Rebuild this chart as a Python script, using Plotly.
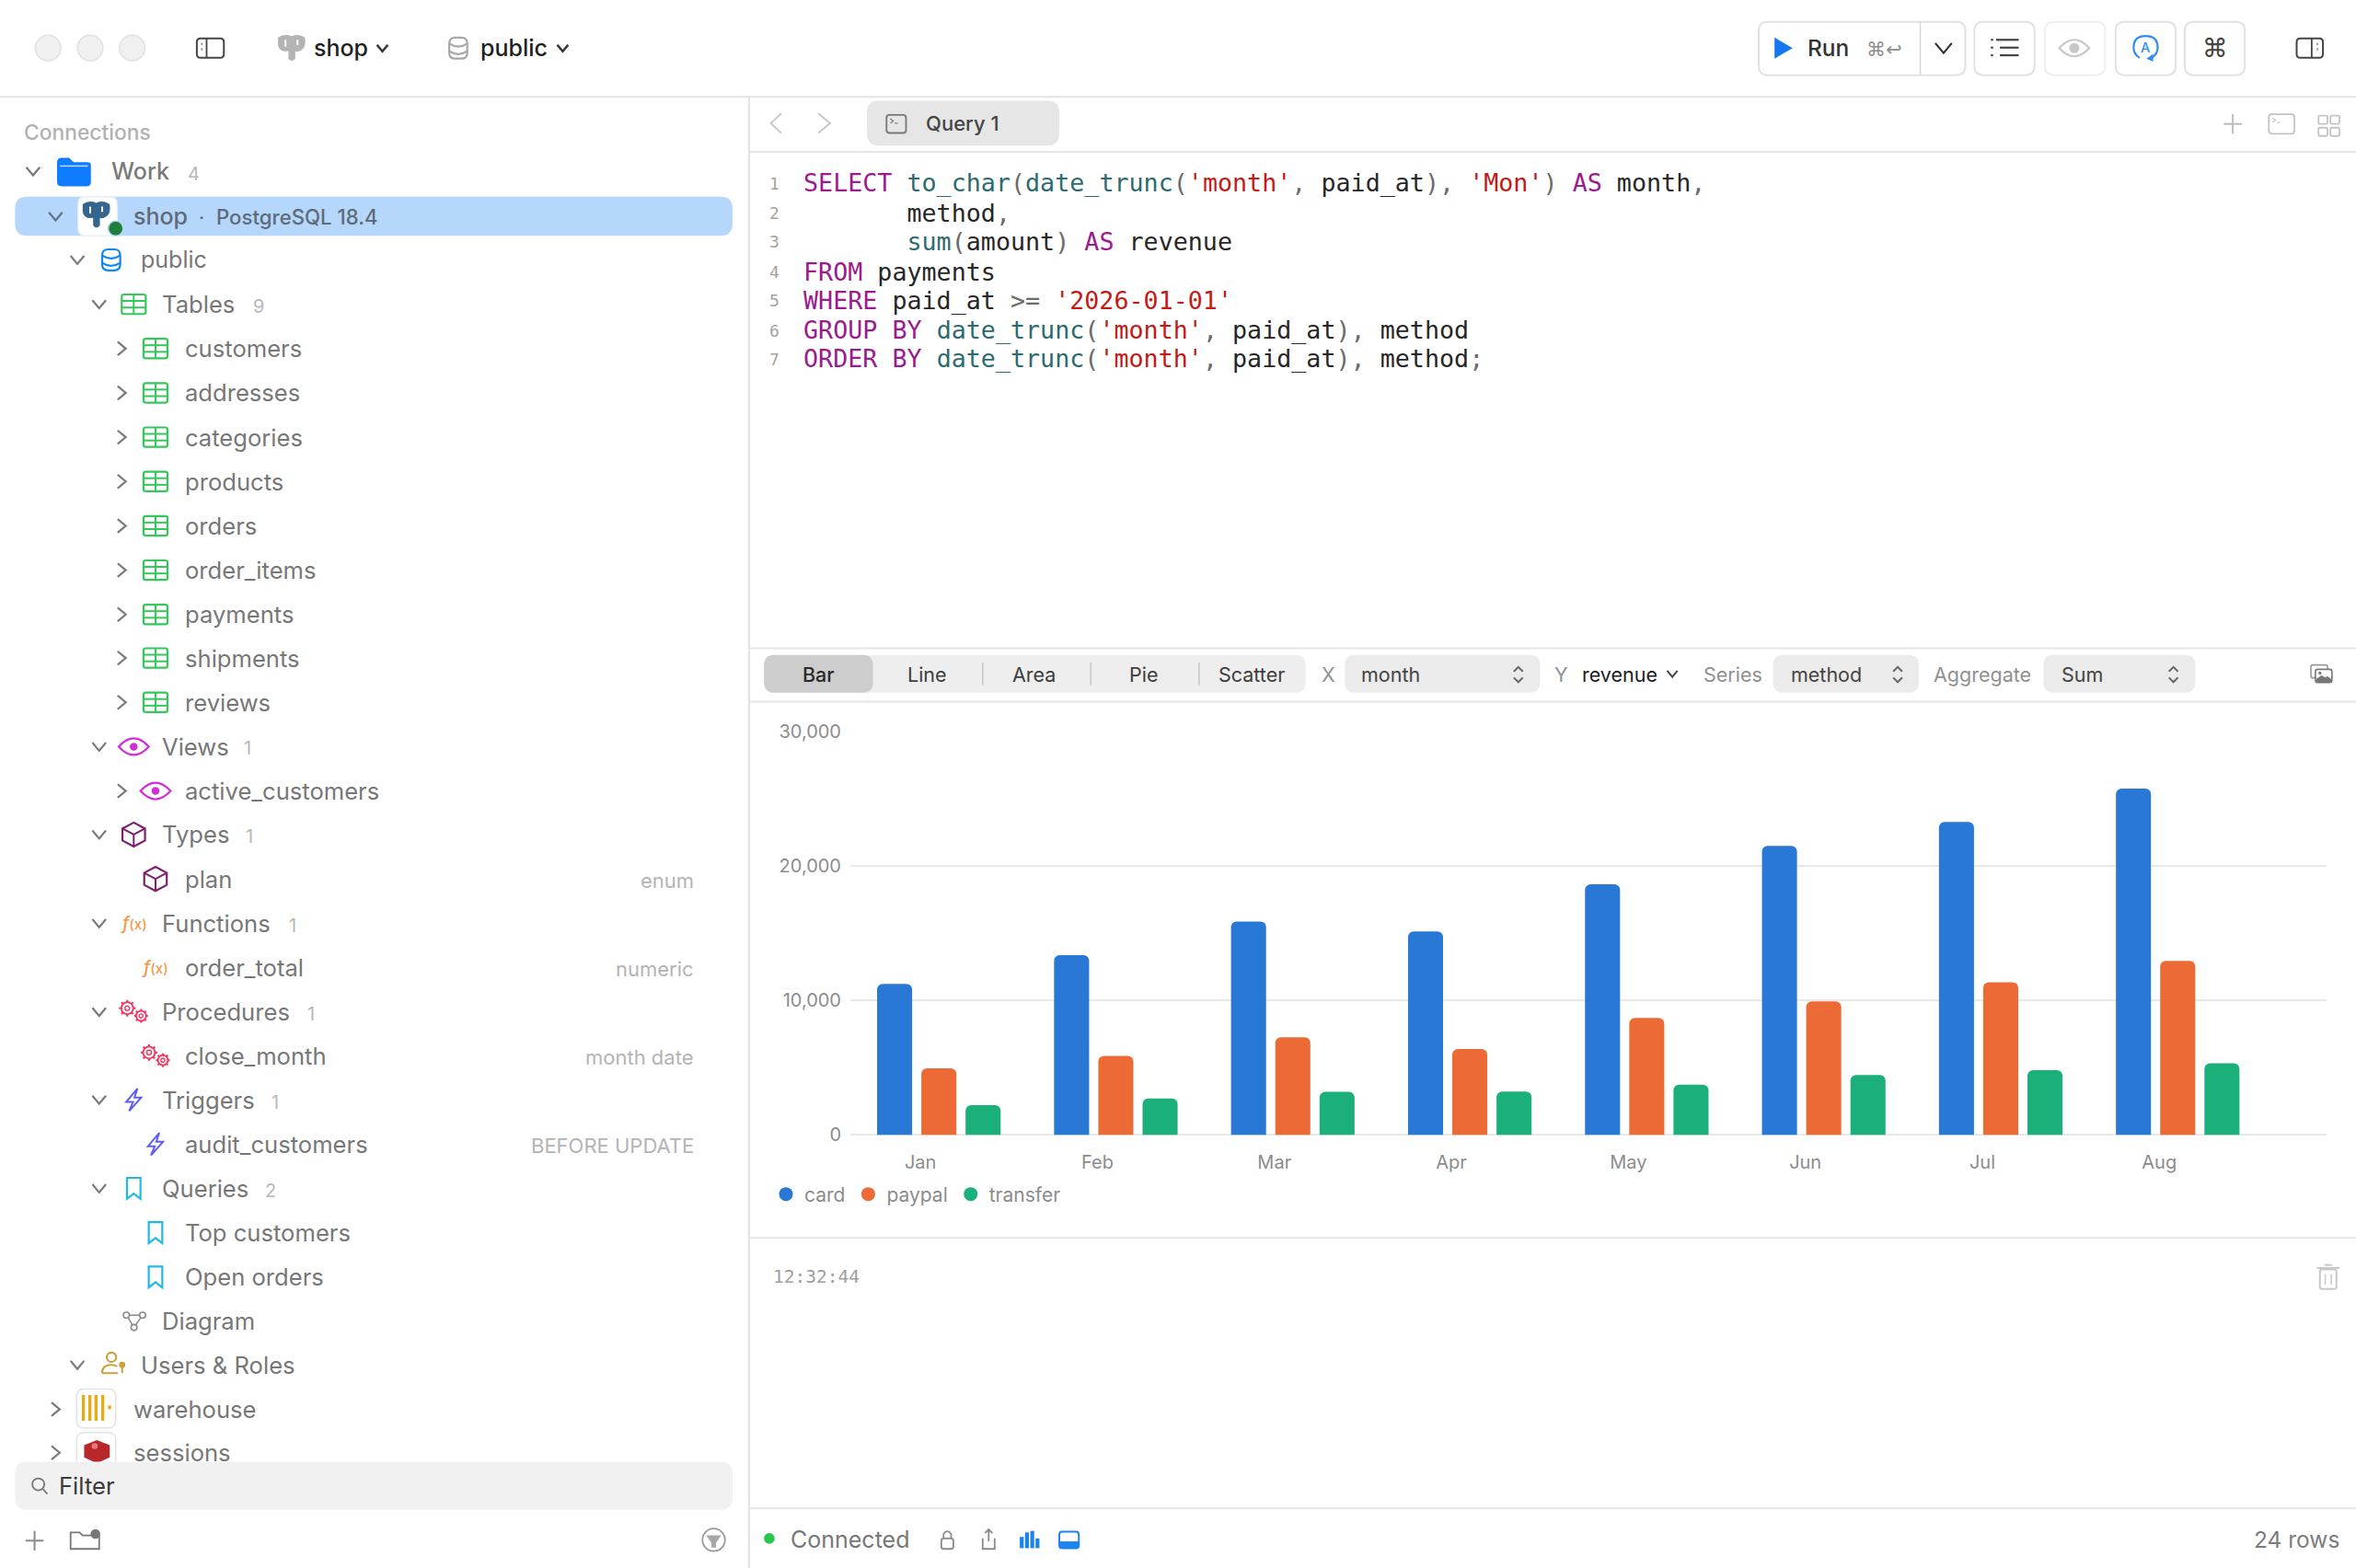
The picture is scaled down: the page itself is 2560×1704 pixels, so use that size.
import math
import re
import plotly.graph_objects as go

# chart values
months = ['Jan', 'Feb', 'Mar', 'Apr', 'May', 'Jun', 'Jul', 'Aug']
card = [11230, 13360, 15860, 15120, 18630, 21480, 23260, 25740]
paypal = [4950, 5870, 7260, 6390, 8700, 9930, 11340, 12930]
transfer = [2220, 2710, 3200, 3220, 3740, 4460, 4810, 5330]
series_names = ['card', 'paypal', 'transfer']
series_colors = ['#2a78d6', '#ec6a35', '#1bb07a']

table_names = ['customers', 'addresses', 'categories', 'products', 'orders',
               'order_items', 'payments', 'shipments', 'reviews']
chart_types = ['Bar', 'Line', 'Area', 'Pie', 'Scatter']

KW = '#9b1b8e'
FN = '#2b6b70'
ST = '#c41a16'
TX = '#262626'
PU = '#6b6b6b'
sql_lines = [
    [('SELECT', KW), (' ', TX), ('to_char', FN), ('(', PU), ('date_trunc', FN), ('(', PU), ("'month'", ST), (',', PU),
     (' paid_at', TX), (')', PU), (',', PU), (' ', TX), ("'Mon'", ST), (')', PU), (' ', TX), ('AS', KW), (' month', TX), (',', PU)],
    [('       method', TX), (',', PU)],
    [('       ', TX), ('sum', FN), ('(', PU), ('amount', TX), (')', PU), (' ', TX), ('AS', KW), (' revenue', TX)],
    [('FROM', KW), (' payments', TX)],
    [('WHERE', KW), (' paid_at ', TX), ('&gt;=', PU), (' ', TX), ("'2026-01-01'", ST)],
    [('GROUP BY', KW), (' ', TX), ('date_trunc', FN), ('(', PU), ("'month'", ST), (',', PU), (' paid_at', TX), (')', PU), (',', PU), (' method', TX)],
    [('ORDER BY', KW), (' ', TX), ('date_trunc', FN), ('(', PU), ("'month'", ST), (',', PU), (' paid_at', TX), (')', PU), (',', PU), (' method', TX), (';', PU)],
]
sql_y = [122, 141.5, 161, 181, 200, 220, 239]

W, H = 2560, 1704
DW, DH = 1568.0, 1043.7  # drawing the window chrome in these units

shapes = []
notes = []


def px(x):
    return x / DW


def py(y):
    return 1 - y / DH


def path(d, fill=None, line=None, width=2.2):
    # d is an svg path in window units, converted to paper coords
    out = []
    is_x = True
    for tok in re.findall(r'[A-Za-z]|-?\d+\.?\d*', d):
        if tok.isalpha():
            out.append(tok)
            is_x = True
        else:
            v = float(tok)
            out.append(f'{px(v):.5f}' if is_x else f'{py(v):.5f}')
            is_x = not is_x
    shapes.append(dict(type='path', xref='paper', yref='paper', path=' '.join(out),
                       fillcolor=fill or 'rgba(0,0,0,0)',
                       line=dict(color=line or 'rgba(0,0,0,0)', width=width if line else 0)))


def rrect(x0, y0, x1, y1, r, fill=None, line=None, width=2):
    path(f'M {x0+r} {y0} L {x1-r} {y0} Q {x1} {y0} {x1} {y0+r} L {x1} {y1-r} Q {x1} {y1} {x1-r} {y1} '
         f'L {x0+r} {y1} Q {x0} {y1} {x0} {y1-r} L {x0} {y0+r} Q {x0} {y0} {x0+r} {y0} Z', fill, line, width)


def circle(cx, cy, r, fill=None, line=None, width=2):
    shapes.append(dict(type='circle', xref='paper', yref='paper',
                       x0=px(cx - r), x1=px(cx + r), y0=py(cy + r), y1=py(cy - r),
                       fillcolor=fill or 'rgba(0,0,0,0)',
                       line=dict(color=line or 'rgba(0,0,0,0)', width=width if line else 0)))


def seg(x0, y0, x1, y1, color='#e4e4e4', width=2):
    path(f'M {x0} {y0} L {x1} {y1}', None, color, width)


def text(x, y, s, size=24, color='#777777', anchor='left', weight=400, font='Inter'):
    notes.append(dict(xref='paper', yref='paper', x=px(x), y=py(y), text=s, showarrow=False,
                      xanchor=anchor, yanchor='middle', borderpad=0, borderwidth=0,
                      font=dict(size=size, color=color, family=font, weight=weight)))


def chev_down(x, y, s=4, color='#7a7a7a', width=2.2):
    path(f'M {x-s} {y-s*0.6} L {x} {y+s*0.6} L {x+s} {y-s*0.6}', None, color, width)


def chev_right(x, y, s=4, color='#7a7a7a', width=2.2):
    path(f'M {x-s*0.6} {y-s} L {x+s*0.6} {y} L {x-s*0.6} {y+s}', None, color, width)


def updown(x, y, color='#666666'):
    path(f'M {x-3} {y-2} L {x} {y-5} L {x+3} {y-2}', None, color, 2)
    path(f'M {x-3} {y+2} L {x} {y+5} L {x+3} {y+2}', None, color, 2)


def elephant(x, y, color, slit='#ffffff'):
    path(f'M {x-9} {y-7} Q {x-5} {y-10} {x} {y-8} Q {x+5} {y-10} {x+9} {y-7} Q {x+10} {y-1} {x+7} {y+1} '
         f'Q {x+4} {y+3} {x+2.5} {y+2} L {x+2.5} {y+7} Q {x} {y+10} {x-2} {y+7} L {x-2} {y+2} Q {x-8} {y+3} {x-9} {y-2} Z', color)
    seg(x - 4, y - 5.5, x - 4, y - 1, slit, 2)
    seg(x + 4, y - 5.5, x + 4, y - 2, slit, 2)


def db_icon(x, y, color, width=2.2):
    rrect(x - 6, y - 7, x + 6, y + 7, 4, None, color, width)
    path(f'M {x-6} {y-3} Q {x} {y+1} {x+6} {y-3}', None, color, width)
    path(f'M {x-6} {y+2} Q {x} {y+6} {x+6} {y+2}', None, color, width)


def table_icon(x, y, color='#34c759'):
    rrect(x - 8, y - 6.5, x + 8, y + 6.5, 1.5, None, color, 2.2)
    seg(x - 8, y - 2.2, x + 8, y - 2.2, color, 2)
    seg(x - 8, y + 2.2, x + 8, y + 2.2, color, 2)
    seg(x, y - 6.5, x, y + 6.5, color, 2)


def eye_icon(x, y, color='#cf2fd6', r=2.6):
    path(f'M {x-10} {y} Q {x} {y-11} {x+10} {y} Q {x} {y+11} {x-10} {y} Z', None, color, 2.2)
    circle(x, y, r, color)


def cube_icon(x, y, color='#7b1f6e'):
    path(f'M {x} {y-8} L {x+7.5} {y-4} L {x+7.5} {y+4} L {x} {y+8} L {x-7.5} {y+4} L {x-7.5} {y-4} Z', None, color, 2.2)
    path(f'M {x-7.5} {y-4} L {x} {y} L {x+7.5} {y-4} M {x} {y} L {x} {y+8}', None, color, 2)


def fx_icon(x, y):
    text(x, y, '<i>f</i><span style="font-size:15px">(x)</span>', 19, '#f09a4a', 'center', 500)


def gear(cx, cy, r, color):
    circle(cx, cy, r * 0.72, None, color, 1.8)
    circle(cx, cy, r * 0.28, None, color, 1.4)
    for k in range(8):
        a = k * math.pi / 4
        seg(cx + r * 0.72 * math.cos(a), cy + r * 0.72 * math.sin(a),
            cx + r * math.cos(a), cy + r * math.sin(a), color, 2.2)


def gear_icon(x, y, color='#f5355f'):
    gear(x - 4.3, y - 2.4, 5.5, color)
    gear(x + 4.9, y + 2.7, 4.6, color)


def bolt_icon(x, y, color='#5e5ef0'):
    path(f'M {x+2.5} {y-7.5} L {x-5} {y+1.5} L {x-0.5} {y+1.5} L {x-3} {y+7.5} L {x+5} {y-1.5} L {x+0.5} {y-1.5} Z', None, color, 2)


def bookmark_icon(x, y, color='#22b8ea'):
    path(f'M {x-4.5} {y-7} L {x+4.5} {y-7} L {x+4.5} {y+7} L {x} {y+3.5} L {x-4.5} {y+7} Z', None, color, 2.2)


def term_icon(x0, y0, x1, y1, color, width=1.8):
    rrect(x0, y0, x1, y1, 2, None, color, width)
    path(f'M {x0+2.5} {y0+2.5} L {x0+4.5} {y0+4} L {x0+2.5} {y0+5.5}', None, color, 1.2)
    seg(x0 + 5.5, y0 + 5.5, x0 + 7.5, y0 + 5.5, color, 1.2)


# ---- window frame
seg(0, 64.5, DW, 64.5, '#e2e2e2', 2)
seg(498.5, 64.5, 498.5, DH, '#e2e2e2', 2)
seg(498.5, 101, DW, 101, '#e6e6e6', 2)
seg(498.5, 431.5, DW, 431.5, '#e6e6e6', 2)
seg(498.5, 467, DW, 467, '#e6e6e6', 2)
seg(498.5, 824, DW, 824, '#e6e6e6', 2)
seg(498.5, 1004, DW, 1004, '#e6e6e6', 2)

# ---- title bar
for cx in [32, 60, 88]:
    circle(cx, 32, 8.5, '#f0f0f0', '#e0e0e0', 1.5)
rrect(131, 25.5, 149, 38.5, 2.5, None, '#454545', 2)
seg(137.5, 25.5, 137.5, 38.5, '#454545', 1.8)
seg(134.3, 28.5, 134.3, 30, '#8a8a8a', 1.6)
seg(134.3, 32, 134.3, 33.5, '#8a8a8a', 1.6)
elephant(194, 32, '#b4b4b4')
text(209, 32, 'shop', 25, '#1f1f1f', weight=500)
chev_down(254.5, 32, 3.6, '#333333', 2.4)
db_icon(305, 32, '#a8a8a8')
text(320, 32, 'public', 25, '#1f1f1f', weight=500)
chev_down(374.5, 32, 3.6, '#333333', 2.4)

rrect(1170.5, 14.5, 1308, 50, 6, '#ffffff', '#e2e2e2', 2)
seg(1278, 14.5, 1278, 50, '#d6d6d6', 1.5)
path('M 1181 25 L 1193 32 L 1181 39 Z', '#1578f0')
text(1203, 32, 'Run', 24.5, '#333333', weight=500)
text(1242, 33, '⌘↩', 21, '#8c8c8c', font='DejaVu Sans')
chev_down(1293.5, 32, 5.5, '#333333', 2.2)
rrect(1314, 14.5, 1354, 50, 6, '#ffffff', '#e2e2e2', 2)
for yy, x0 in [(26.5, 1328.5), (31.7, 1331), (36.8, 1331)]:
    seg(x0, yy, 1343.5, yy, '#444444', 2.2)
for yy in [26.5, 31.7, 36.8]:
    seg(1325, yy, 1326.5, yy, '#444444', 2.2)
rrect(1361, 14.5, 1401, 50, 6, '#ffffff', '#efefef', 2)
eye_icon(1380.5, 32, '#c8c8c8', 3.4)
rrect(1408, 14.5, 1448, 50, 6, '#ffffff', '#e2e2e2', 2)
path('M 1424 38.5 Q 1420 36 1420 31.7 Q 1420 24 1428 24 Q 1436 24 1436 31.7 Q 1436 36 1432 38.5', None, '#2f8cf0', 2.2)
path('M 1428.5 39 L 1433 36 L 1433 41 Z', '#2f8cf0')
text(1428, 31.5, 'A', 14.5, '#2f8cf0', 'center', 500)
rrect(1454, 14.5, 1494, 50, 6, '#ffffff', '#e2e2e2', 2)
text(1474, 32, '⌘', 28, '#444444', 'center', font='DejaVu Sans')
rrect(1528.5, 25.5, 1546, 38.5, 2.5, None, '#454545', 2)
seg(1538.5, 25.5, 1538.5, 38.5, '#454545', 1.8)
seg(1542.3, 28.5, 1542.3, 30, '#8a8a8a', 1.6)
seg(1542.3, 32, 1542.3, 33.5, '#8a8a8a', 1.6)

# ---- tab bar
chev_right(548.5, 82, 6.5, '#c9c9c9', 2)
path('M 520 75.5 L 513 82 L 520 88.5', None, '#c9c9c9', 2)
rrect(577, 67, 705, 97, 8, '#e6e6e6')
term_icon(590, 76.5, 603, 88.5, '#777777')
text(616, 82, 'Query 1', 22, '#454545', weight=500)
seg(1486, 76, 1486, 89, '#bcbcbc', 2)
seg(1480, 82.5, 1492, 82.5, '#bcbcbc', 2)
term_icon(1510, 76, 1527, 89, '#c4c4c4')
for ax in [1543, 1551]:
    for ay in [77, 85]:
        rrect(ax, ay, ax + 6, ay + 5.5, 1, None, '#c4c4c4', 1.8)

# ---- sql editor
for i, (line, yy) in enumerate(zip(sql_lines, sql_y)):
    text(515.5, yy, str(i + 1), 18, '#a3a3a3', 'center', font='DejaVu Sans Mono')
    html = ''.join(f'<span style="color:{c}">{t}</span>' for t, c in line)
    text(535, yy, html, 26.7, TX, font='DejaVu Sans Mono')

# ---- chart toolbar
rrect(508.5, 436, 869, 461, 7, '#eeeeee')
rrect(508.5, 436, 581, 461, 7, '#cdcdcd')
for xx in [654, 726, 798]:
    seg(xx, 441, xx, 456, '#c4c4c4', 1.5)
for name, xx, col in zip(chart_types, [545, 617, 688, 761, 833], ['#2a2a2a'] + ['#3d3d3d'] * 4):
    text(xx, 449, name, 21.5, col, 'center', 500 if name == 'Bar' else 400)
text(884, 449, 'X', 21.5, '#909090', 'center')
rrect(895, 436, 1025, 461, 7, '#ebebeb')
text(906, 449, 'month', 21.5, '#444444')
updown(1010.5, 449)
text(1039, 449, 'Y', 21.5, '#909090', 'center')
text(1053, 449, 'revenue', 21.5, '#1c1c1c')
chev_down(1113, 448.5, 3.4, '#444444', 2)
text(1134, 449, 'Series', 21.5, '#909090')
rrect(1180, 436, 1277, 461, 7, '#ebebeb')
text(1192, 449, 'method', 21.5, '#444444')
updown(1263, 449)
text(1287, 449, 'Aggregate', 21.5, '#909090')
rrect(1360, 436, 1461, 461, 7, '#ebebeb')
text(1372, 449, 'Sum', 21.5, '#444444')
updown(1446.5, 449)
rrect(1538, 442.6, 1549, 451.2, 1.2, None, '#999999', 1.6)
rrect(1541, 445.5, 1552, 454.3, 1.5, '#ffffff', '#777777', 1.6)
path('M 1541.5 454 L 1541.5 452 L 1545 449.5 L 1547.5 451 L 1549 450 L 1551.5 452 L 1551.5 454 Z', '#777777')
circle(1544, 448, 1, '#777777')

# ---- below the chart
text(514.5, 850, '12:32:44', 19.5, '#a0a0a0', font='DejaVu Sans Mono')
rrect(1544, 845, 1555, 858, 1.5, None, '#c8c8c8', 2)
seg(1542, 844, 1557, 844, '#c8c8c8', 2)
seg(1547, 842, 1552, 842, '#c8c8c8', 2)
seg(1547.5, 848, 1547.5, 855, '#c8c8c8', 1.5)
seg(1551.5, 848, 1551.5, 855, '#c8c8c8', 1.5)

# ---- sidebar
text(16, 88, 'Connections', 22.8, '#b2b2b2', weight=500)
TREE = '#777777'
COUNT = '#b8b8b8'
RIGHT = '#b4b4b4'
TS = 25.6

chev_down(22, 114, 4.5)
path('M 38 108 Q 38 105 41 105 L 46 105 L 49 108 L 58 108 Q 60.5 108 60.5 110 L 60.5 121 Q 60.5 124 58 124 L 41 124 Q 38 124 38 121 Z', '#0f7bff')
seg(40, 110.5, 58.5, 110.5, '#bcdcff', 1.5)
text(74, 114, 'Work', 25, '#7a7a7a', weight=500)
text(129, 116, '4', 20, COUNT, 'center')

rrect(10, 131, 487.5, 157, 8, '#b6d7fc')
chev_down(37, 144, 4.5, '#5f7286')
rrect(52, 131, 78, 157, 5, '#ffffff', '#e6eef7', 1.5)
elephant(64, 143, '#33658f')
circle(77, 152, 5, '#1d7f3a', '#b6d7fc', 1.5)
text(89, 144, 'shop', 25, '#5e6b78', weight=500)
text(134, 145, '·', 21, '#5e6b78', 'center')
text(144, 144, 'PostgreSQL 18.4', 22.2, '#5e6b78', weight=500)

chev_down(51.5, 173, 4.5)
db_icon(74, 173, '#0f86f0')
text(94, 173, 'public', 25, TREE)

chev_down(66, 202.5, 4.5)
table_icon(89, 202.5)
text(108, 202.5, 'Tables', TS, TREE)
text(172, 204, str(len(table_names)), 20, COUNT, 'center')
table_y = [232, 261.5, 291, 320.5, 350, 379.5, 409, 438, 467.5]
for name, yy in zip(table_names, table_y):
    chev_right(81, yy, 4.5)
    table_icon(103.5, yy)
    text(123, yy, name, TS, TREE)

chev_down(66, 497, 4.5)
eye_icon(89, 497)
text(108, 497, 'Views', TS, TREE)
text(165, 498, '1', 20, COUNT, 'center')
chev_right(81, 526.5, 4.5)
eye_icon(103.5, 526.5)
text(123, 526.5, 'active_customers', TS, TREE)

chev_down(66, 555.5, 4.5)
cube_icon(89, 555.5)
text(108, 555.5, 'Types', TS, TREE)
text(166, 557, '1', 20, COUNT, 'center')
cube_icon(103.5, 585)
text(123, 585, 'plan', TS, TREE)
text(462, 586, 'enum', 22, RIGHT, 'right')

chev_down(66, 614.5, 4.5)
fx_icon(89, 614.5)
text(108, 614.5, 'Functions', TS, TREE)
text(195, 616, '1', 20, COUNT, 'center')
fx_icon(103.5, 644)
text(123, 644, 'order_total', TS, TREE)
text(462, 645, 'numeric', 22, RIGHT, 'right')

chev_down(66, 673.5, 4.5)
gear_icon(89, 673.5)
text(108, 673.5, 'Procedures', TS, TREE)
text(207, 675, '1', 20, COUNT, 'center')
gear_icon(103.5, 703)
text(123, 703, 'close_month', TS, TREE)
text(462, 704, 'month date', 22, RIGHT, 'right')

chev_down(66, 732, 4.5)
bolt_icon(89, 732)
text(108, 732, 'Triggers', TS, TREE)
text(183, 733.5, '1', 20, COUNT, 'center')
bolt_icon(103.5, 761.5)
text(123, 761.5, 'audit_customers', TS, TREE)
text(462, 762.5, 'BEFORE UPDATE', 22, RIGHT, 'right')

chev_down(66, 791, 4.5)
bookmark_icon(89, 791)
text(108, 791, 'Queries', TS, TREE)
text(180, 792.5, '2', 20, COUNT, 'center')
bookmark_icon(103.5, 820.5)
text(123, 820.5, 'Top customers', TS, TREE)
bookmark_icon(103.5, 850)
text(123, 850, 'Open orders', TS, TREE)

for cx, cy in [(84.1, 875.4), (94.9, 875.4), (89.2, 883.6)]:
    circle(cx, cy, 2, None, '#8a8a8a', 1.6)
path('M 85.2 877 L 88.2 882 M 93.8 877 L 90.2 882 M 86.2 875.4 L 92.8 875.4', None, '#8a8a8a', 1.5)
text(108, 879, 'Diagram', TS, TREE)

chev_down(51.5, 908.5, 4.5)
circle(74.2, 903.4, 3.1, None, '#cf9f3c', 2.2)
path('M 68 914 Q 68 908.5 74 908.5 Q 76.5 908.5 78 909.5 M 68 914 L 78.5 914', None, '#cf9f3c', 2.2)
circle(81.3, 908.5, 2.1, '#cf9f3c')
seg(81.3, 908.5, 81.3, 914, '#cf9f3c', 2)
text(94, 908.5, 'Users &amp; Roles', TS, TREE)

chev_right(37, 938, 4.5)
rrect(51, 924.5, 77, 950.5, 5, '#ffffff', '#e4e4e4', 1.5)
for bx in [55.5, 59.8, 63.9, 68.4]:
    seg(bx, 928.5, bx, 945.7, '#e8ab16', 3.3)
seg(72.9, 935.5, 72.9, 938, '#e8ab16', 3.3)
text(89, 938, 'warehouse', TS, TREE)

chev_right(37, 967, 4.5)
rrect(51, 953.5, 77, 980, 5, '#ffffff', '#e4e4e4', 1.5)
path('M 64.5 958.5 L 73 962 L 73 970 L 64.5 974 L 56 970 L 56 962 Z', '#b8282a')
circle(63, 962.5, 2, '#e27b7b')
text(89, 967, 'sessions', TS, TREE)

rrect(10, 973, 487.5, 1005, 8, '#f1f1f1')
circle(25.5, 988, 4, None, '#777777', 1.8)
seg(28.5, 991, 31.5, 994.5, '#777777', 1.8)
text(39, 989, 'Filter', TS, '#3a3a3a')

seg(23, 1019, 23, 1032, '#8a8a8a', 2)
seg(17, 1025.5, 29, 1025.5, '#8a8a8a', 2)
path('M 47 1020 L 53 1020 L 55 1022 L 66 1022 L 66 1031 L 47 1031 Z', None, '#777777', 1.8)
circle(63.5, 1021, 3.2, '#777777')
circle(475, 1025, 7.5, None, '#999999', 1.8)
path('M 470 1022 L 480 1022 L 476.5 1027 L 476.5 1030 L 473.5 1030 L 473.5 1027 Z', '#a6a6a6')

# ---- status bar
circle(512, 1024, 3.6, '#28c850')
text(526, 1025, 'Connected', 25, '#777777')
rrect(626.5, 1024, 634.5, 1031, 1.5, None, '#8a8a8a', 1.8)
path('M 628 1024 L 628 1021 Q 630.5 1017.5 633 1021 L 633 1024', None, '#8a8a8a', 1.8)
path('M 654 1024 L 654 1031 L 662 1031 L 662 1024', None, '#8a8a8a', 1.8)
path('M 658 1026 L 658 1018 M 655.5 1020.5 L 658 1018 L 660.5 1020.5', None, '#8a8a8a', 1.8)
for bx, top in [(680, 1023), (683.5, 1020), (687, 1019), (690.5, 1024)]:
    path(f'M {bx-1.3} 1030.5 L {bx-1.3} {top} L {bx+1.3} {top} L {bx+1.3} 1030.5 Z', '#1c84f0')
rrect(705, 1019.5, 718, 1030.5, 2, None, '#1c84f0', 2)
path('M 705 1026 L 718 1026 L 718 1030.5 L 705 1030.5 Z', '#1c84f0')
text(1557, 1025, '24 rows', 24.5, '#7c7c7c', 'right')

# ---- the chart itself
fig = go.Figure()
for name, vals, col in zip(series_names, [card, paypal, transfer], series_colors):
    fig.add_trace(go.Bar(name=name, x=months, y=vals, marker=dict(color=col, line=dict(width=0)), showlegend=False))
for name, col in zip(series_names, series_colors):
    fig.add_trace(go.Scatter(name=name, x=[None], y=[None], mode='markers',
                             marker=dict(color=col, size=15, symbol='circle')))

fig.update_layout(
    width=W, height=H, autosize=False,
    margin=dict(l=0, r=0, t=0, b=0, pad=0, autoexpand=False),
    paper_bgcolor='#ffffff', plot_bgcolor='#ffffff',
    font=dict(family='Inter', color='#8c8c8c', size=20),
    barmode='group', bargap=0.25, bargroupgap=0.208, barcornerradius=6,
    shapes=shapes, annotations=notes,
    hovermode=False,
    legend=dict(orientation='h', x=834 / W, y=1 - 1298 / H, xanchor='left', yanchor='middle',
                font=dict(size=21, color='#8c8c8c', family='Inter'), itemwidth=30,
                bgcolor='rgba(0,0,0,0)', itemclick=False, itemdoubleclick=False),
    xaxis=dict(domain=[924 / W, 2527.6 / W], type='category', categoryorder='array', categoryarray=months,
               range=[-0.5, 7.839], showgrid=False, zeroline=False, showline=False, ticks='',
               ticklabelshift=-20, ticklabelstandoff=16,
               tickfont=dict(size=20, color='#8c8c8c', family='Inter'), anchor='y'),
    yaxis=dict(domain=[1 - 1233.4 / H, 1 - 794.8 / H], range=[0, 30000], dtick=10000, tickformat=',',
               showgrid=True, gridcolor='#e8e8e8', gridwidth=2, zeroline=True, zerolinecolor='#e8e8e8', zerolinewidth=2,
               showline=False, ticks='', ticklabelstandoff=9,
               tickfont=dict(size=20, color='#8c8c8c', family='Inter'), anchor='x'),
)

fig.write_html("out.html", config={"displayModeBar": False},
               post_script="document.body.style.margin='0';")
